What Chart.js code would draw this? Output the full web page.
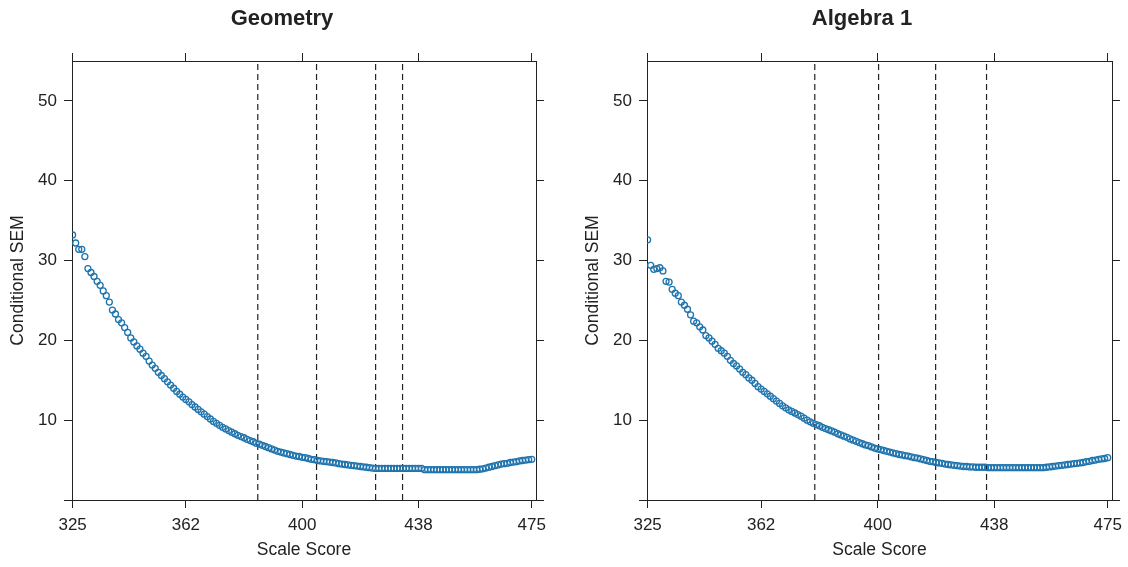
<!DOCTYPE html>
<html lang="en">
<head>
    <meta charset="UTF-8">
    <title>Conditional SEM</title>
    <script src="https://cdn.jsdelivr.net/npm/chart.js"></script>
    <style>
        body {
            margin: 0;
            background: #fff;
            width: 1128px;
            height: 567px;
            overflow: hidden;
            position: relative;
        }

        .panel {
            position: absolute;
            top: 0;
            height: 567px;
        }

        #geo-panel { left: 0; width: 564px; }
        #alg-panel { left: 575px; width: 574px; }
    </style>
</head>
<body>
    <div class="panel" id="geo-panel"><canvas id="geo-chart"></canvas></div>
    <div class="panel" id="alg-panel"><canvas id="alg-chart"></canvas></div>

    <script>
        const scores = [
            325, 326, 327, 328, 329, 330, 331, 332, 333, 334, 335, 336, 337, 338, 339, 340, 341, 342, 343, 344,
            345, 346, 347, 348, 349, 350, 351, 352, 353, 354, 355, 356, 357, 358, 359, 360, 361, 362, 363, 364,
            365, 366, 367, 368, 369, 370, 371, 372, 373, 374, 375, 376, 377, 378, 379, 380, 381, 382, 383, 384,
            385, 386, 387, 388, 389, 390, 391, 392, 393, 394, 395, 396, 397, 398, 399, 400, 401, 402, 403, 404,
            405, 406, 407, 408, 409, 410, 411, 412, 413, 414, 415, 416, 417, 418, 419, 420, 421, 422, 423, 424,
            425, 426, 427, 428, 429, 430, 431, 432, 433, 434, 435, 436, 437, 438, 439, 440, 441, 442, 443, 444,
            445, 446, 447, 448, 449, 450, 451, 452, 453, 454, 455, 456, 457, 458, 459, 460, 461, 462, 463, 464,
            465, 466, 467, 468, 469, 470, 471, 472, 473, 474, 475
        ];

        const geometrySem = [
            33.2, 32.2, 31.4, 31.4, 30.5, 29.0, 28.5, 28.0, 27.4, 26.9,
            26.2, 25.6, 24.8, 23.8, 23.3, 22.6, 22.2, 21.6, 21.0, 20.3,
            19.8, 19.3, 18.9, 18.4, 18.0, 17.4, 16.9, 16.5, 16.0, 15.6,
            15.2, 14.8, 14.4, 14.0, 13.6, 13.25, 12.9, 12.6, 12.3, 11.95,
            11.65, 11.35, 11.05, 10.75, 10.45, 10.15, 9.85, 9.6, 9.35, 9.1,
            8.9, 8.7, 8.5, 8.3, 8.1, 7.95, 7.8, 7.6, 7.45, 7.3,
            7.1, 7.0, 6.85, 6.7, 6.55, 6.4, 6.25, 6.1, 6.0, 5.9,
            5.8, 5.7, 5.6, 5.5, 5.45, 5.35, 5.3, 5.2, 5.1, 5.05,
            4.95, 4.9, 4.85, 4.8, 4.75, 4.7, 4.65, 4.55, 4.5, 4.45,
            4.4, 4.35, 4.3, 4.25, 4.2, 4.15, 4.1, 4.05, 4.0, 3.95,
            3.95, 3.95, 3.95, 3.95, 3.95, 3.95, 3.95, 3.95, 3.95, 3.95,
            3.95, 3.95, 3.95, 3.95, 3.95, 3.8, 3.8, 3.8, 3.8, 3.8,
            3.8, 3.8, 3.8, 3.8, 3.8, 3.8, 3.8, 3.8, 3.8, 3.8,
            3.8, 3.8, 3.8, 3.85, 3.9, 4.0, 4.1, 4.2, 4.3, 4.4,
            4.5, 4.55, 4.6, 4.7, 4.75, 4.8, 4.9, 4.95, 5.0, 5.05, 5.1
        ];

        const algebraSem = [
            32.6, 29.4, 28.9, 29.0, 29.1, 28.7, 27.4, 27.3, 26.4, 25.9,
            25.6, 24.8, 24.4, 23.9, 23.2, 22.4, 22.2, 21.7, 21.3, 20.6,
            20.3, 19.9, 19.5, 19.0, 18.7, 18.4, 18.0, 17.5, 17.1, 16.8,
            16.4, 16.0, 15.7, 15.3, 15.0, 14.6, 14.2, 13.9, 13.6, 13.3,
            13.0, 12.7, 12.4, 12.1, 11.8, 11.55, 11.3, 11.1, 10.9, 10.7,
            10.5, 10.25, 10.0, 9.8, 9.6, 9.45, 9.3, 9.1, 8.95, 8.8,
            8.65, 8.5, 8.3, 8.15, 8.0, 7.85, 7.65, 7.5, 7.35, 7.2,
            7.05, 6.9, 6.8, 6.65, 6.5, 6.4, 6.3, 6.2, 6.1, 6.0,
            5.9, 5.8, 5.7, 5.65, 5.55, 5.5, 5.4, 5.3, 5.25, 5.15,
            5.05, 4.95, 4.85, 4.8, 4.7, 4.65, 4.6, 4.5, 4.45, 4.4,
            4.35, 4.3, 4.25, 4.2, 4.2, 4.15, 4.15, 4.1, 4.1, 4.1,
            4.1, 4.05, 4.05, 4.05, 4.05, 4.05, 4.05, 4.05, 4.05, 4.05,
            4.05, 4.05, 4.05, 4.05, 4.05, 4.05, 4.05, 4.05, 4.05, 4.05,
            4.1, 4.15, 4.2, 4.25, 4.3, 4.35, 4.4, 4.45, 4.5, 4.55,
            4.6, 4.65, 4.7, 4.8, 4.85, 4.95, 5.0, 5.1, 5.15, 5.2, 5.3
        ];

        // cut scores (dashed lines)
        const geometryCuts = [385.5, 404.7, 424.0, 432.8];
        const algebraCuts = [379.5, 400.3, 418.9, 435.5];

        const xTicks = [325, 362, 400, 438, 475];
        const yTicks = [0, 10, 20, 30, 40, 50];

        const ink = '#222';
        const pointColor = '#1f74ad';

        Chart.defaults.font.family = '"Liberation Sans", Arial, sans-serif';
        Chart.defaults.color = ink;

        const tickGrid = {
            drawOnChartArea: false,
            drawTicks: true,
            tickLength: 8,
            color: ink,
            tickWidth: 1
        };

        const makePanel = (canvasId, title, values, cuts, rightWidth) => {
            const ctx = document.getElementById(canvasId).getContext('2d');

            const cutSets = cuts.map(c => ({
                type: 'scatter',
                data: [{ x: c, y: 0 }, { x: c, y: 55 }],
                showLine: true,
                borderColor: ink,
                borderWidth: 1.2,
                borderDash: [6, 4],
                pointRadius: 0,
                fill: false,
                order: 1
            }));

            return new Chart(ctx, {
                type: 'scatter',
                data: {
                    datasets: [
                        {
                            data: scores.map((s, i) => ({ x: s, y: values[i] })),
                            pointStyle: 'circle',
                            pointRadius: 3,
                            pointBorderWidth: 1.3,
                            pointBackgroundColor: 'rgba(0,0,0,0)',
                            borderColor: pointColor,
                            order: 0
                        },
                        ...cutSets
                    ]
                },
                options: {
                    responsive: true,
                    maintainAspectRatio: false,
                    devicePixelRatio: 1,
                    animation: false,
                    events: [],
                    layout: { padding: 0 },
                    plugins: {
                        legend: { display: false },
                        tooltip: { enabled: false },
                        title: {
                            display: true,
                            text: title,
                            color: ink,
                            font: { size: 22, weight: 'bold' },
                            padding: { top: 6, bottom: 0 }
                        }
                    },
                    scales: {
                        x: {
                            type: 'linear',
                            position: 'bottom',
                            min: 324.8,
                            max: 476.4,
                            afterBuildTicks: s => { s.ticks = xTicks.map(v => ({ value: v })); },
                            afterFit: s => { s.height = 67; },
                            ticks: { font: { size: 17 }, padding: 7, maxRotation: 0, autoSkip: false },
                            grid: tickGrid,
                            border: { display: true, color: ink, width: 1 },
                            title: {
                                display: true,
                                text: 'Scale Score',
                                font: { size: 17.5 },
                                padding: { top: 0, bottom: 6 }
                            }
                        },
                        x2: {
                            type: 'linear',
                            position: 'top',
                            min: 324.8,
                            max: 476.4,
                            afterBuildTicks: s => { s.ticks = xTicks.map(v => ({ value: v })); },
                            afterFit: s => { s.height = 61 - 32.4; },
                            ticks: { display: false },
                            grid: tickGrid,
                            border: { display: true, color: ink, width: 1 }
                        },
                        y: {
                            type: 'linear',
                            position: 'left',
                            min: 0,
                            max: 55,
                            afterBuildTicks: s => { s.ticks = yTicks.map(v => ({ value: v })); },
                            afterFit: s => { s.width = 72; },
                            ticks: {
                                font: { size: 17 },
                                padding: 7,
                                callback: v => (v === 0 ? '' : v)
                            },
                            grid: tickGrid,
                            border: { display: true, color: ink, width: 1 },
                            title: {
                                display: true,
                                text: 'Conditional SEM',
                                font: { size: 17.5 },
                                padding: { top: 7.5, bottom: 0 }
                            }
                        },
                        y2: {
                            type: 'linear',
                            position: 'right',
                            min: 0,
                            max: 55,
                            afterBuildTicks: s => { s.ticks = yTicks.map(v => ({ value: v })); },
                            afterFit: s => { s.width = rightWidth; },
                            ticks: { display: false },
                            grid: tickGrid,
                            border: { display: true, color: ink, width: 1 }
                        }
                    }
                }
            });
        };

        makePanel('geo-chart', 'Geometry', geometrySem, geometryCuts, 28);
        makePanel('alg-chart', 'Algebra 1', algebraSem, algebraCuts, 37);
    </script>
</body>
</html>
